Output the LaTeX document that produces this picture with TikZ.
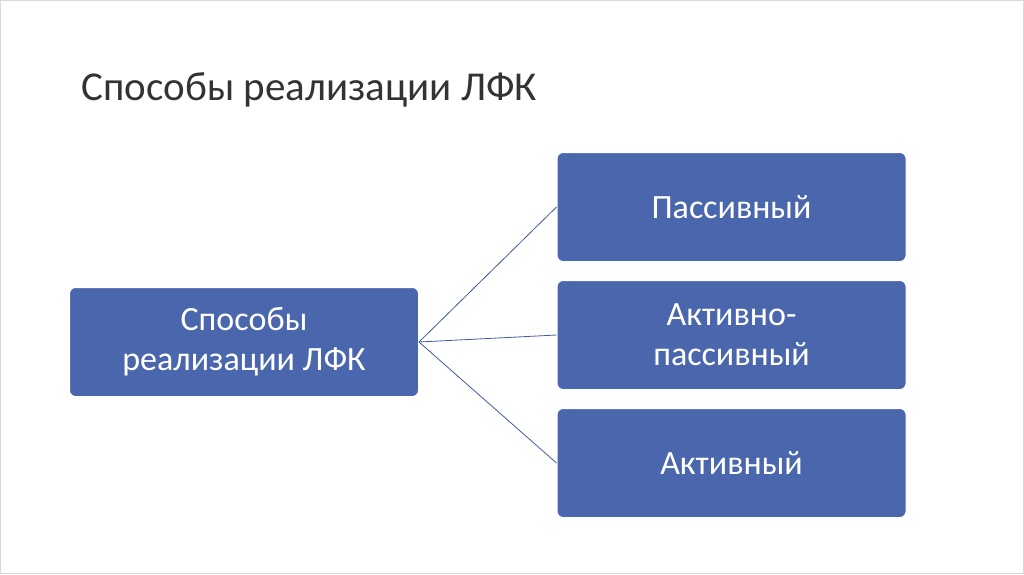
\documentclass[tikz,border=0pt]{standalone}
\usepackage{fontspec}
\setmainfont{Carlito}
\definecolor{boxblue}{HTML}{4A66AC}
\definecolor{lineblue}{HTML}{3F5A9E}
\begin{document}
\begin{tikzpicture}[x=1pt,y=-1pt,
  box/.style={fill=boxblue,draw=white,line width=1pt,rounded corners=6pt,minimum width=349pt,minimum height=109pt,text=white,font=\fontsize{34}{40}\selectfont,align=center},
  conn/.style={draw=lineblue,line width=0.8pt}]
\useasboundingbox (0,0) rectangle (1024,574);
\draw[gray!30] (0.5,0.5) rectangle (1023.5,573.5);
\node[anchor=base west,font=\fontsize{41}{48}\selectfont,text=black!80] (title) at (78,100) {Способы реализации ЛФК};
\node[box] (root) at (244,342) {Способы\\реализации ЛФК};
\node[box] (a) at (731.5,207) {Пассивный};
\node[box] (b) at (731.5,335) {Активно-\\пассивный};
\node[box] (c) at (731.5,463) {Активный};
\draw[conn] (root.east) -- (a.west);
\draw[conn] (root.east) -- (b.west);
\draw[conn] (root.east) -- (c.west);
\end{tikzpicture}
\end{document}
